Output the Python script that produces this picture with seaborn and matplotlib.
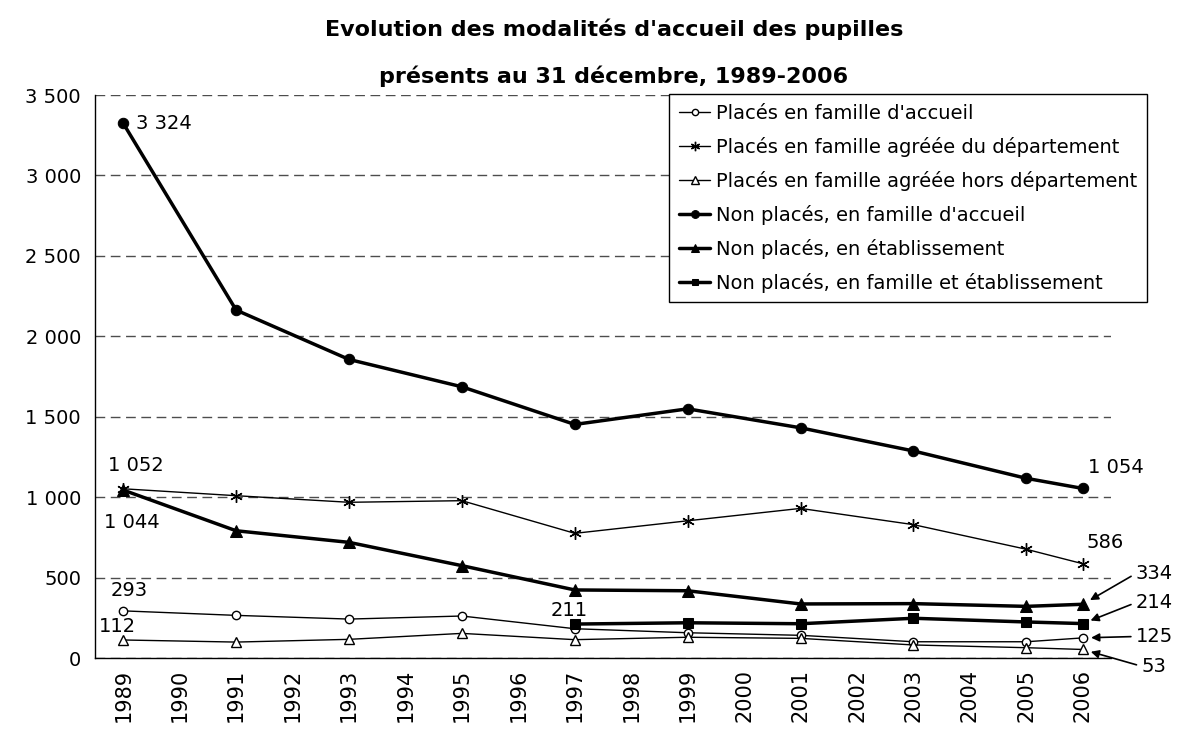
import matplotlib
matplotlib.use("Agg")
import matplotlib.pyplot as plt
import matplotlib.ticker as mticker
import pandas as pd
import seaborn as sns

# données
years_all = list(range(1989, 2007))
years = [1989, 1991, 1993, 1995, 1997, 1999, 2001, 2003, 2005, 2006]
years_mixte = [1997, 1999, 2001, 2003, 2005, 2006]

places_famille = [293, 265, 242, 261, 182, 157, 141, 101, 101, 125]
places_agree_dep = [1052, 1009, 968, 978, 775, 853, 930, 829, 676, 586]
places_agree_hors = [112, 99, 116, 153, 114, 129, 122, 81, 64, 53]
non_places_famille = [3324, 2163, 1856, 1686, 1452, 1549, 1431, 1287, 1117, 1054]
non_places_etab = [1044, 791, 719, 574, 423, 418, 336, 338, 321, 334]
non_places_mixte = [211, 219, 213, 247, 224, 214]

labels = [
    "Placés en famille d'accueil",
    "Placés en famille agréée du département",
    "Placés en famille agréée hors département",
    "Non placés, en famille d'accueil",
    "Non placés, en établissement",
    "Non placés, en famille et établissement",
]

sns.set_style("white")
plt.rcParams["font.family"] = ["DejaVu Sans"]
plt.rcParams["text.color"] = "black"
plt.rcParams["xtick.color"] = "black"
plt.rcParams["ytick.color"] = "black"
plt.rcParams["axes.labelcolor"] = "black"

fig = plt.figure(figsize=(11.92, 7.34), dpi=100)
ax = fig.add_axes([95 / 1192, 1 - 658 / 734, (1111 - 95) / 1192, (658 - 95) / 734])

series = [
    (years, places_famille, dict(lw=1.0, marker="o", ms=6, mfc="white", mew=1.0)),
    (years, places_agree_dep, dict(lw=1.0, marker=(6, 2, 0), ms=9, mew=1.0)),
    (years, places_agree_hors, dict(lw=1.0, marker="^", ms=7, mfc="white", mew=1.0)),
    (years, non_places_famille, dict(lw=2.5, marker="o", ms=7.5, mfc="black")),
    (years, non_places_etab, dict(lw=2.5, marker="^", ms=8, mfc="black")),
    (years_mixte, non_places_mixte, dict(lw=2.5, marker="s", ms=6.5, mfc="black")),
]
for (x, y, style), lab in zip(series, labels):
    df = pd.DataFrame({"annee": x, "valeur": y})
    sns.lineplot(data=df, x="annee", y="valeur", ax=ax, color="black",
                 mec="black", label=lab, **style)

ax.set_xlim(1988.5, 2006.5)
ax.set_ylim(0, 3500)
ax.set_xlabel("")
ax.set_ylabel("")

# axe x : traits entre les catégories, libellés au centre
ax.xaxis.set_major_locator(mticker.FixedLocator([y - 0.5 for y in years_all] + [2006.5]))
ax.xaxis.set_major_formatter(mticker.NullFormatter())
ax.xaxis.set_minor_locator(mticker.FixedLocator(years_all))
ax.xaxis.set_minor_formatter(mticker.FixedFormatter([str(y) for y in years_all]))
ax.tick_params(axis="x", which="major", direction="out", length=7, width=1, color="black")
ax.tick_params(axis="x", which="minor", length=0, labelsize=15, labelrotation=90, pad=8)

ax.yaxis.set_major_locator(mticker.MultipleLocator(500))
ax.yaxis.set_major_formatter(mticker.FuncFormatter(lambda v, p: f"{int(v):,}".replace(",", " ")))
ax.tick_params(axis="y", direction="out", length=6, width=1, color="black", labelsize=14, pad=4)

ax.grid(axis="y", color="0.3", lw=1, linestyle=(0, (7, 4)))
ax.grid(axis="x", visible=False)
for s in ["top", "right"]:
    ax.spines[s].set_visible(False)
for s in ["left", "bottom"]:
    ax.spines[s].set_color("black")
    ax.spines[s].set_linewidth(1)

# étiquettes de valeurs
def lab(txt, x, y, dx, dy, ha="center", arrow=False):
    kw = {}
    if arrow:
        kw["arrowprops"] = dict(arrowstyle="-|>", color="black", lw=1.2,
                                shrinkA=1, shrinkB=6, relpos=(0, 0.5),
                                mutation_scale=12)
    ax.annotate(txt, xy=(x, y), xytext=(dx, dy), textcoords="offset points",
                ha=ha, va="center", fontsize=14, **kw)

lab("3 324", 1989, non_places_famille[0], 9.5, 0, ha="left")
lab("1 052", 1989, places_agree_dep[0], 9, 17)
lab("1 044", 1989, non_places_etab[0], 6, -23)
lab("293", 1989, places_famille[0], 4, 15)
lab("112", 1989, places_agree_hors[0], -4, 10)
lab("211", 1997, non_places_mixte[0], -4, 10)
lab("1 054", 2006, non_places_famille[-1], 24, 15)
lab("586", 2006, places_agree_dep[-1], 16, 15)
lab("334", 2006, non_places_etab[-1], 38, 22, ha="left", arrow=True)
lab("214", 2006, non_places_mixte[-1], 38, 15, ha="left", arrow=True)
lab("125", 2006, places_famille[-1], 38, 1, ha="left", arrow=True)
lab("53", 2006, places_agree_hors[-1], 42, -12, ha="left", arrow=True)

leg = ax.legend(loc="upper right", bbox_to_anchor=(1147 / 1192, 1 - 94 / 734),
                bbox_transform=fig.transFigure, borderaxespad=0, frameon=True,
                fancybox=False, edgecolor="black", framealpha=1, fontsize=14,
                handlelength=1.6, handletextpad=0.3, labelspacing=0.72,
                markerscale=0.75, borderpad=0.5)
leg.get_frame().set_linewidth(1)

fig.text(0.515, 1 - 29 / 734, "Evolution des modalités d'accueil des pupilles",
         ha="center", va="center", fontsize=16, fontweight="bold")
fig.text(0.515, 1 - 76 / 734, "présents au 31 décembre, 1989-2006",
         ha="center", va="center", fontsize=16, fontweight="bold")

fig.savefig("out.png", dpi=100)
